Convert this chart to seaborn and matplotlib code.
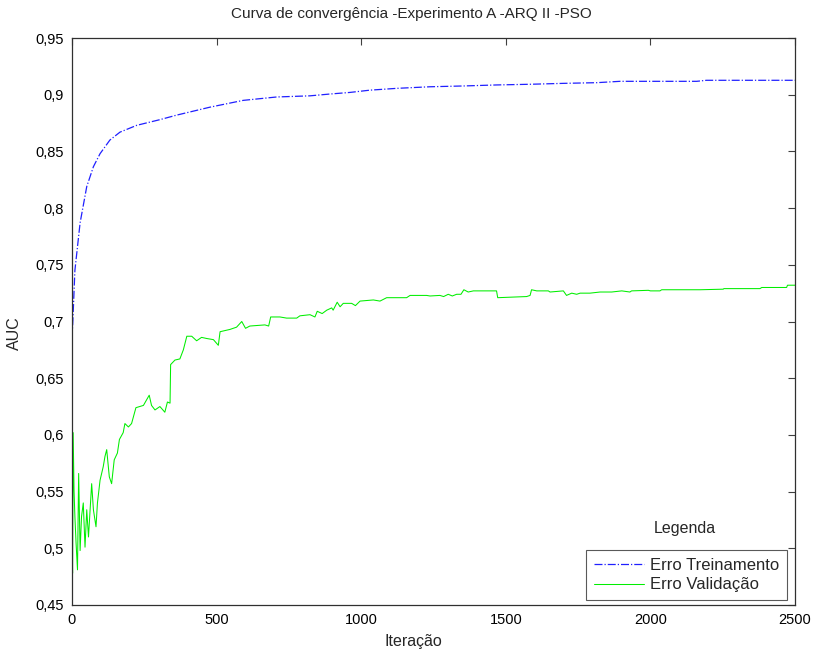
import numpy as np
import pandas as pd
import matplotlib
matplotlib.use("Agg")
import matplotlib.pyplot as plt
import seaborn as sns
from matplotlib.ticker import FixedLocator, FixedFormatter

sns.set_style("white")
plt.rcParams['font.family'] = ['Liberation Sans', 'DejaVu Sans']

# ---- data ----
train_iter = [0, 3, 10, 28, 51, 74, 97, 131, 166, 224, 304, 362, 477, 592, 708, 823,
              892, 961, 1030, 1123, 1238, 1353, 1468, 1584, 1699, 1814, 1895, 2160,
              2194, 2500]
train_auc = [0.685, 0.701, 0.745, 0.787, 0.819, 0.8365, 0.848, 0.860, 0.867, 0.873,
             0.878, 0.882, 0.889, 0.895, 0.898, 0.899, 0.9006, 0.902, 0.904, 0.9056,
             0.907, 0.9077, 0.9086, 0.9092, 0.910, 0.9106, 0.9118, 0.9118, 0.9127,
             0.9127]

val_iter = [0, 2, 4, 7, 10, 14, 19, 23, 28, 33, 39, 45, 51, 57, 68, 74, 83, 88, 97,
            108, 114, 120, 129, 137, 146, 157, 164, 177, 183, 195, 206, 221, 247, 267,
            275, 287, 304, 321, 330, 339, 341, 356, 373, 385, 397, 414, 431, 448, 466,
            489, 506, 512, 546, 569, 587, 600, 615, 667, 680, 687, 719, 742, 777, 788,
            823, 840, 848, 865, 881, 898, 903, 917, 927, 938, 967, 980, 996, 1042,
            1065, 1088, 1157, 1169, 1226, 1238, 1272, 1285, 1301, 1315, 1330, 1345,
            1355, 1370, 1388, 1428, 1468, 1472, 1572, 1584, 1589, 1607, 1647, 1653,
            1699, 1710, 1728, 1745, 1757, 1791, 1826, 1866, 1901, 1929, 1935, 1993,
            2000, 2033, 2039, 2172, 2252, 2254, 2379, 2385, 2471, 2474, 2500]
val_auc = [0.520, 0.478, 0.602, 0.551, 0.528, 0.505, 0.481, 0.566, 0.498, 0.528,
           0.540, 0.501, 0.534, 0.510, 0.557, 0.534, 0.519, 0.540, 0.560, 0.572,
           0.581, 0.587, 0.563, 0.557, 0.578, 0.584, 0.596, 0.602, 0.610, 0.607,
           0.610, 0.624, 0.626, 0.635, 0.626, 0.622, 0.625, 0.620, 0.629, 0.628,
           0.662, 0.666, 0.667, 0.675, 0.687, 0.687, 0.683, 0.686, 0.685, 0.684,
           0.679, 0.691, 0.693, 0.695, 0.700, 0.694, 0.696, 0.697, 0.696, 0.704,
           0.704, 0.703, 0.703, 0.705, 0.706, 0.704, 0.709, 0.707, 0.710, 0.712,
           0.710, 0.717, 0.713, 0.716, 0.716, 0.714, 0.718, 0.719, 0.718, 0.721,
           0.721, 0.723, 0.723, 0.7225, 0.723, 0.722, 0.724, 0.7225, 0.724, 0.724,
           0.728, 0.726, 0.727, 0.727, 0.727, 0.721, 0.722, 0.723, 0.728, 0.727,
           0.727, 0.726, 0.727, 0.723, 0.725, 0.724, 0.725, 0.725, 0.726, 0.726,
           0.727, 0.726, 0.727, 0.7275, 0.727, 0.727, 0.728, 0.728, 0.7285, 0.729,
           0.729, 0.730, 0.730, 0.732, 0.732]

y_ticks = [0.45, 0.5, 0.55, 0.6, 0.65, 0.7, 0.75, 0.8, 0.85, 0.9, 0.95]
y_tick_labels = ["0,45", "0,5", "0,55", "0,6", "0,65", "0,7", "0,75", "0,8",
                 "0,85", "0,9", "0,95"]
x_ticks = [0, 500, 1000, 1500, 2000, 2500]
x_tick_labels = ["0", "500", "1000", "1500", "2000", "2500"]

title = "Curva de convergência -Experimento A -ARQ II -PSO"
label_train = "Erro Treinamento"
label_val = "Erro Validação"

# ---- figure ----
fig = plt.figure(figsize=(8.14, 6.52), dpi=100)
ax = fig.add_axes([72 / 814, 1 - 605 / 652, (795 - 72) / 814, (605 - 38) / 652])

df_train = pd.DataFrame({"Iteração": train_iter, "AUC": train_auc})
df_val = pd.DataFrame({"Iteração": val_iter, "AUC": val_auc})

sns.lineplot(data=df_train, x="Iteração", y="AUC", ax=ax, color="#2020ff",
             linewidth=0.9, linestyle="-.", label=label_train,
             estimator=None, sort=False)
sns.lineplot(data=df_val, x="Iteração", y="AUC", ax=ax, color="#00ee00",
             linewidth=0.75, linestyle="-", label=label_val,
             estimator=None, sort=False)

ax.set_xlim(0, 2500)
ax.set_ylim(0.45, 0.95)
ax.xaxis.set_major_locator(FixedLocator(x_ticks))
ax.xaxis.set_major_formatter(FixedFormatter(x_tick_labels))
ax.yaxis.set_major_locator(FixedLocator(y_ticks))
ax.yaxis.set_major_formatter(FixedFormatter(y_tick_labels))

ax.tick_params(direction="in", length=5, width=0.8, color="#404040",
               top=True, right=True, labelsize=10.5, labelcolor="black", pad=6)
for s in ax.spines.values():
    s.set_visible(True)
    s.set_color("#303030")
    s.set_linewidth(0.9)

ax.set_xlabel("Iteração", fontsize=11.5)
ax.xaxis.set_label_coords((413 - 72) / 723, -(634 - 605) / 567)
ax.set_ylabel("AUC", fontsize=11.5)
ax.yaxis.set_label_coords(-(72 - 22) / 723, (605 - 333) / 567)
ax.set_title("")
fig.text(411 / 814, 1 - 14 / 652, title, ha="center", va="center", fontsize=11)

leg = ax.legend(loc="upper right", bbox_to_anchor=(787 / 814, 1 - 550 / 652),
                bbox_transform=fig.transFigure, borderaxespad=0, fontsize=12,
                frameon=True, fancybox=False, handlelength=3.0,
                handletextpad=0.4, borderpad=0.45, labelspacing=0.3)
leg.get_frame().set_edgecolor("#303030")
leg.get_frame().set_linewidth(0.8)
fig.text(685 / 814, 1 - 529 / 652, "Legenda", ha="center", va="center",
         fontsize=11.5)

fig.savefig("out.png", dpi=100, facecolor="white")
